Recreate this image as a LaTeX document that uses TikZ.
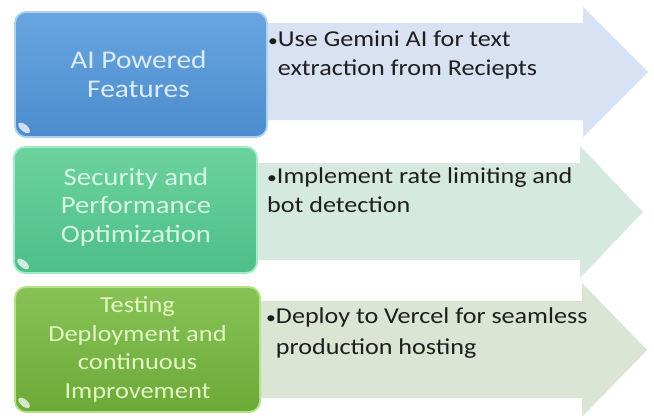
\documentclass[tikz,border=0pt]{standalone}
\usepackage{fontspec}
\usepackage{graphicx}
\setmainfont{Carlito}[FakeStretch=1.15]
\definecolor{bluebase}{RGB}{76,140,206}
\definecolor{bluetop}{RGB}{104,165,224}
\definecolor{blueedge}{RGB}{172,212,242}
\definecolor{bluetext}{RGB}{222,236,250}
\definecolor{tealbase}{RGB}{78,190,136}
\definecolor{tealtop}{RGB}{108,210,158}
\definecolor{tealedge}{RGB}{160,236,200}
\definecolor{tealtext}{RGB}{212,246,226}
\definecolor{greenbase}{RGB}{108,170,56}
\definecolor{greentop}{RGB}{136,194,86}
\definecolor{greenedge}{RGB}{180,226,134}
\definecolor{greentext}{RGB}{226,246,196}
\definecolor{arrowA}{RGB}{216,226,242}
\definecolor{arrowB}{RGB}{214,233,225}
\definecolor{arrowC}{RGB}{218,229,211}
\definecolor{bodytext}{RGB}{30,30,30}
\newcommand{\smbul}{\scalebox{0.75}{•}}
\begin{document}
\begin{tikzpicture}[x=1bp,y=-1bp,
  phasebox/.style={rounded corners=11bp, line width=1.8bp, inner sep=0pt},
  phasetext/.style={anchor=base, align=center, inner sep=0pt},
  bullettext/.style={anchor=base west, align=left, inner sep=0pt,
    text=bodytext, font=\fontsize{22.7bp}{29bp}\selectfont},
  shine/.style={x radius=7bp, y radius=3.5bp, rotate=-40}
]
\useasboundingbox (0,0) rectangle (654,415);
\fill[white] (0,0) rectangle (654,415);

% arrows
\fill[arrowA] (200,23) -- (583,23) -- (583,7) -- (648,72) -- (583,137) -- (583,120) -- (200,120) -- cycle;
\fill[arrowB] (200,163) -- (580,163) -- (580,146) -- (643,212) -- (580,278) -- (580,260) -- (200,260) -- cycle;
\fill[arrowC] (200,301) -- (582,301) -- (582,283) -- (647,350) -- (582,417) -- (582,398) -- (200,398) -- cycle;

% boxes
\node[phasebox, draw=blueedge, top color=bluetop, middle color=bluebase, bottom color=bluebase,
  minimum width=252bp, minimum height=125bp] (b1) at (141,74.5) {};
\node[phasebox, draw=tealedge, top color=tealtop, middle color=tealbase, bottom color=tealbase,
  minimum width=243bp, minimum height=126bp] (b2) at (135.5,210) {};
\node[phasebox, draw=greenedge, top color=greentop, middle color=greenbase, bottom color=greenbase,
  minimum width=245bp, minimum height=125bp] (b3) at (137.5,349.5) {};

% box texts (anchor = baseline of last line)
\node[phasetext, text=bluetext, font=\fontsize{25.5bp}{29bp}\selectfont] (l1) at (138.5,97)
  {AI Powered\\Features};
\node[phasetext, text=tealtext, font=\fontsize{25bp}{28.5bp}\selectfont] (l2) at (136,242)
  {Security and\\Performance\\Optimization};
\node[phasetext, text=greentext, font=\fontsize{23bp}{28.5bp}\selectfont] (l3) at (137.5,398)
  {Testing\\Deployment and\\continuous\\Improvement};

% corner shines
\fill[white!72!bluebase] ([shift={(10,-10)}]b1.south west) ellipse[shine];
\fill[white!72!tealbase] ([shift={(10,-10)}]b2.south west) ellipse[shine];
\fill[white!72!greenbase] ([shift={(10,-10)}]b3.south west) ellipse[shine];

% bullet texts (anchor = baseline of last line)
\node[bullettext] (t1) at (268,75) {\smbul Use Gemini AI for text\\\hphantom{\smbul}extraction from Reciepts};
\node[bullettext] (t2) at (267,212) {\smbul Implement rate limiting and\\bot detection};
\node[bullettext, font=\fontsize{22.7bp}{31bp}\selectfont] (t3) at (266,354) {\smbul Deploy to Vercel for seamless\\\hphantom{\smbul}production hosting};
\end{tikzpicture}
\end{document}
